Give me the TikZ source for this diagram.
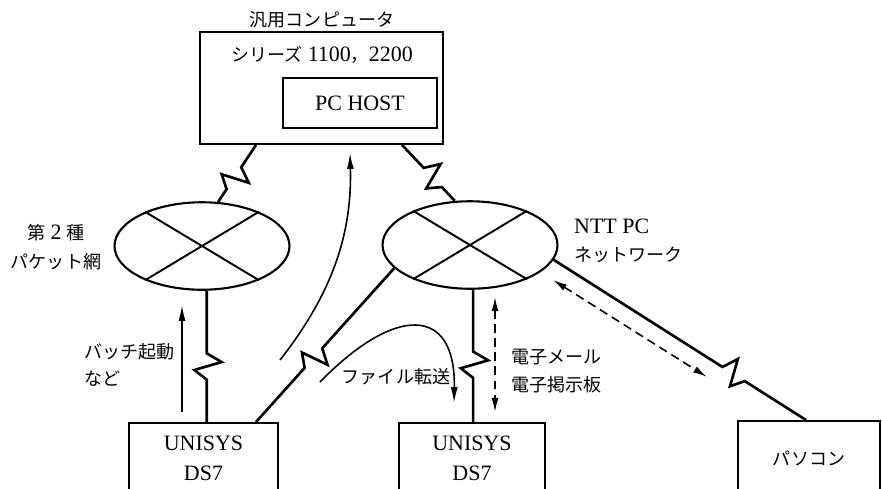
\documentclass[tikz,border=0pt]{standalone}
\usepackage{fontspec}
\setmainfont{Liberation Serif}
\newfontfamily\cjk[Scale=0.82]{Noto Sans CJK JP}
\usepackage{tikz}
\usetikzlibrary{shapes.geometric,arrows.meta,calc}

\begin{document}
\begin{tikzpicture}[x=0.02cm,y=-0.02cm,
	every node/.style={font=\fontsize{12.5}{16}\selectfont},
	jp/.style={font=\fontsize{12.5}{15.5}\selectfont\cjk},
	box/.style={draw,line width=1.1pt,minimum height=1.4cm,inner sep=0pt,align=center,font=\fontsize{12.5}{17}\selectfont},
	net/.style={shape=ellipse,draw,line width=1.2pt,minimum width=3.5cm,minimum height=1.75cm,inner sep=0pt},
	link/.style={line width=1.5pt,line join=miter},
	zig/.style={to path={
		-- ($(\tikztostart)!#1!(\tikztotarget)!-7pt!(\tikztotarget)$)
		-- ($(\tikztostart)!#1!(\tikztotarget)!-2pt!(\tikztotarget)!8.5pt!90:(\tikztotarget)$)
		-- ($(\tikztostart)!#1!(\tikztotarget)!2.5pt!(\tikztotarget)!-7pt!90:(\tikztotarget)$)
		-- ($(\tikztostart)!#1!(\tikztotarget)!8pt!(\tikztotarget)$)
		-- (\tikztotarget)}},
	zig/.default=0.57,
	flow/.style={line width=0.9pt,-{Latex[length=9pt,width=4pt]}},
	flowtwo/.style={line width=0.9pt,dash pattern=on 5pt off 3pt,{Latex[length=8pt,width=4pt]}-{Latex[length=8pt,width=4pt]}}
	]
	\useasboundingbox (0,0) rectangle (882,488);
	\clip (0,0) rectangle (882,488);
	%	host side
	\node (title) at(322,20)[jp]{汎用コンピュータ};
	\node (host) at(321.5,88)[draw,line width=1.1pt,minimum width=4.86cm,minimum height=2.24cm]{};
	\node (series) at(322,55){{\cjk シリーズ} 1100{\cjk ，}2200};
	\node (pchost) at(360,103)[draw,line width=1.1pt,minimum width=3.08cm,minimum height=1cm]{PC HOST};
	%	networks
	\node (pk) at(202,246)[net]{};
	\node (ntt) at(470,245)[net]{};
	\draw[line width=1.1pt] (pk.31) -- (pk.-149) (pk.149) -- (pk.-31);
	\draw[line width=1.1pt] (ntt.31) -- (ntt.-149) (ntt.149) -- (ntt.-31);
	\node (pklabel) at(56,247)[align=center,font=\fontsize{12.5}{16.5}\selectfont]{{\cjk 第} 2 {\cjk 種}\\{\cjk パケット網}};
	\node (nttlabel) at(568,241)[anchor=west,align=left,font=\fontsize{12.5}{15.5}\selectfont]{NTT PC\\{\cjk ネットワーク}};
	%	terminals
	\node (uni1) at(203.5,458)[box,minimum width=2.98cm]{UNISYS\\DS7};
	\node (uni2) at(472,458)[box,minimum width=2.92cm]{UNISYS\\DS7};
	\node (pc) at(809,458)[box,minimum width=2.84cm,minimum height=1.48cm,font=\fontsize{12.5}{16}\selectfont\cjk]{パソコン};
	\coordinate (h1) at ($(host.south west)+(57,0)$);
	\coordinate (h2) at ($(host.south west)+(203,0)$);
	\coordinate (u1in) at (pk.-84 |- uni1.north);
	\coordinate (u1out) at ($(uni1.north east)+(-23,0)$);
	\coordinate (u2in) at (ntt.-86 |- uni2.north);
	\coordinate (pcin) at ($(pc.north west)+(69,0)$);
	\draw[link] (h1) to[zig] (pk.70);
	\draw[link] (h2) to[zig] (ntt.109);
	\draw[link] (pk.-84) to[zig] (u1in);
	\draw[link] (ntt.-163) to[zig=0.58] (u1out);
	\draw[link] (ntt.-86) to[zig=0.56] (u2in);
	\draw[link] (ntt.-10) to[zig=0.71] (pcin);
	%	traffic
	\coordinate (b0) at(182,412);
	\coordinate (b1) at(182,305);
	\draw[flow] (b0) -- (b1);
	\node (batch) at(78,365)[anchor=west,align=left,jp]{バッチ起動\\など};
	\coordinate (c0) at(280,360);
	\coordinate (c1) at(350,153);
	\draw[flow] (c0) .. controls (335,290) and (352,230) .. (c1);
	\coordinate (f0) at(320,382);
	\coordinate (f1) at(454,403);
	\draw[flow] (f0) .. controls (395,305) and (456,305) .. (f1);
	\node (file) at(396,377)[jp]{ファイル転送};
	\coordinate (m0) at(495,297);
	\coordinate (m1) at(495,412);
	\draw[flowtwo] (m0) -- (m1);
	\node (mail) at(505,371)[anchor=west,align=left,jp]{電子メール\\電子掲示板};
	\coordinate (d0) at(553,280);
	\coordinate (d1) at(707,377);
	\draw[flowtwo] (d0) -- (d1);
\end{tikzpicture}
\end{document}
